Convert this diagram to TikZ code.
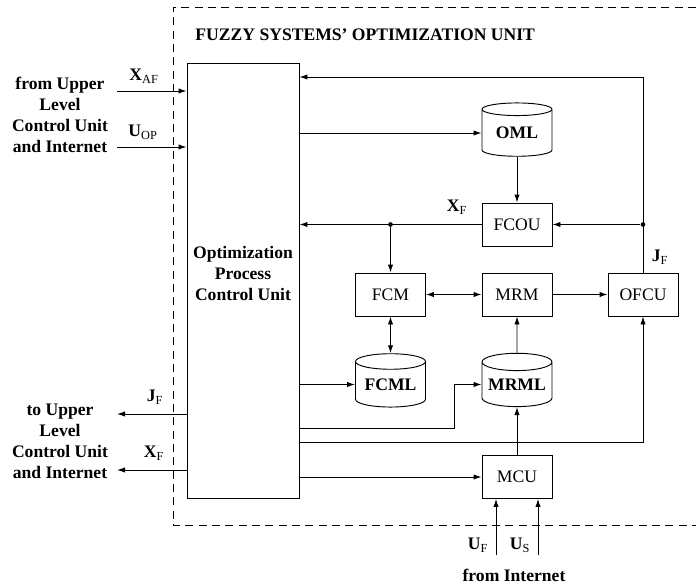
\documentclass[tikz,border=0pt]{standalone}
\usepackage{fontspec}
\setmainfont{Liberation Serif}
\usetikzlibrary{arrows.meta,positioning,calc,shapes.geometric}
\begin{document}
\begin{tikzpicture}[x=0.75pt,y=-0.75pt,>={Latex[length=6pt,width=4pt]},line width=0.7pt,
 every node/.style={font=\fontsize{13.2}{15.75}\selectfont},
 box/.style={draw,minimum width=52.5pt,minimum height=32.25pt,inner sep=0pt},
 store/.style={draw,cylinder,shape border rotate=90,aspect=0.3,minimum width=52.5pt,minimum height=40pt,inner sep=0pt,font=\fontsize{13.2}{15.75}\selectfont\bfseries},
 sig/.style={font=\fontsize{13.2}{15.75}\selectfont\bfseries},
 dot/.style={circle,fill,inner sep=0pt,minimum size=3.5pt}]
\useasboundingbox (0,0) rectangle (696,585);
\draw[dash pattern=on 6pt off 4pt] (696,7)--(173,7)--(173,525)--(696,525);
\node[sig,anchor=west,inner sep=0pt] (title) at (195,35) {FUZZY SYSTEMS' OPTIMIZATION UNIT};
% units
\node[draw,minimum width=84pt,minimum height=326.25pt,label={[sig,align=center,yshift=5.25pt]center:Optimization\\Process\\Control Unit}] (opcu) at (243,280.5) {};
\node[store] (oml) at (517,133) {OML};
\node[box] (fcou) at (517,224.5) {FCOU};
\node[box] (fcm) at (390.5,294.5) {FCM};
\node[box] (mrm) at (517,294.5) {MRM};
\node[box] (ofcu) at (643,294.5) {OFCU};
\node[store] (fcml) at (390.5,384.5) {FCML};
\node[store] (mrml) at (517,384.5) {MRML};
\node[box] (mcu) at (517,477) {MCU};
% branch points
\coordinate (fb) at (643,77);\node[dot] (jd) at (643,224.5){};\node[dot] (xd) at (390.5,224.5){};
\coordinate (m1) at (454,428);\coordinate (o1) at (643,442);
\coordinate (uf) at (496,555);\coordinate (us) at (538,555);
\coordinate (xa) at (117,91);\coordinate (uo) at (117,147);\coordinate (jo) at (117,414);\coordinate (xo) at (117,470);
% connections
\draw[->] (ofcu.north)--(fb)--(fb-|opcu.east);
\draw[->] (jd)--(fcou.east);\draw[->] (fcou.west)--(fcou.west-|opcu.east);\draw[->] (xd)--(fcm.north);
\draw[->] (oml.west-|opcu.east)--(oml.west);\draw[->] (oml.south)--(fcou.north);
\draw[<->] (fcm)--(mrm);\draw[->] (mrm)--(ofcu);
\draw[<->] (fcm.south)--(fcml.north);\draw[->] (mrml.north)--(mrm.south);
\draw[->] (fcml.west-|opcu.east)--(fcml.west);
\draw[->] (m1-|opcu.east)--(m1)|-(mrml.west);
\draw[->] (o1-|opcu.east)--(o1)--(ofcu.south);
\draw[->] (mcu.west-|opcu.east)--(mcu.west);\draw[->] (mcu.north)--(mrml.south);
\foreach \c in {uf,us} \draw[->] (\c)--(\c|-mcu.south);
\foreach \c in {xa,uo} \draw[->] (\c)--(\c-|opcu.west);
\foreach \c in {jo,xo} \draw[->] (\c-|opcu.west)--(\c);
% labels
\node (lxaf) at (144,76) {\textbf{X}\textsubscript{AF}};\node (luop) at (143,132) {\textbf{U}\textsubscript{OP}};
\node (ljo) at (155,397) {\textbf{J}\textsubscript{F}};\node (lxo) at (154,453) {\textbf{X}\textsubscript{F}};
\node (lxf) at (457,207) {\textbf{X}\textsubscript{F}};\node (ljf) at (660,257) {\textbf{J}\textsubscript{F}};
\node (luf) at (478,545) {\textbf{U}\textsubscript{F}};\node (lus) at (520,545) {\textbf{U}\textsubscript{S}};
\node[sig,align=center] (src) at (60,115) {from Upper\\Level\\Control Unit\\and Internet};
\node[sig,align=center] (dst) at (60,441.5) {to Upper\\Level\\Control Unit\\and Internet};
\node[sig] (net) at (514,575) {from Internet};
\end{tikzpicture}
\end{document}
